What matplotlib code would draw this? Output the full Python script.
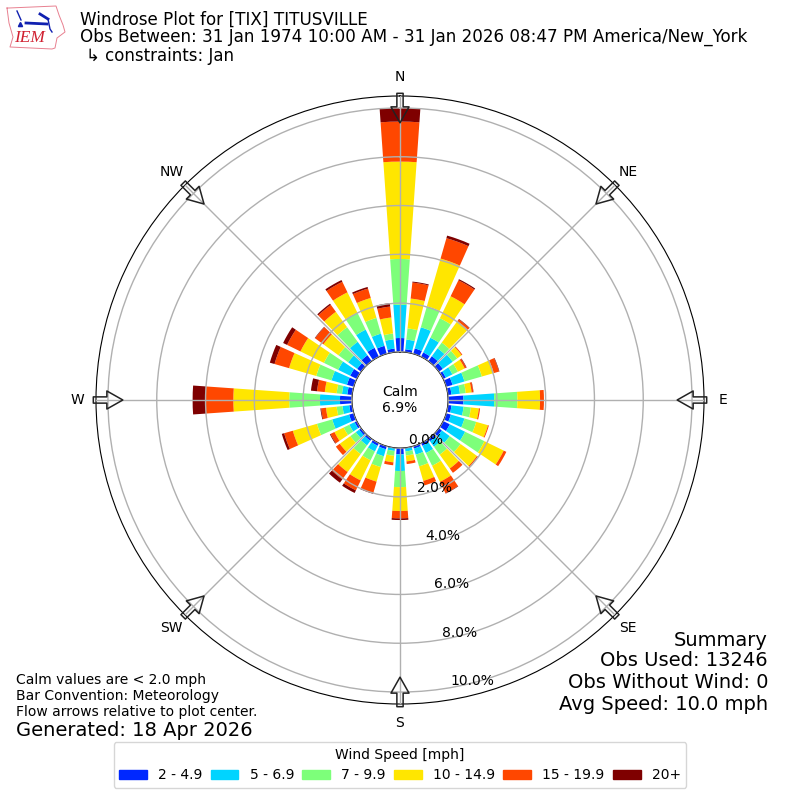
import numpy as np
import matplotlib
matplotlib.use("Agg")
import matplotlib.pyplot as plt
from matplotlib.patches import Patch

# wind direction bins, every 10 degrees
directions = list(range(0, 360, 10))

# top of each speed band on the stacked bar, percent of obs
top_2_5 = [.57,.12,.23,.20,.25,.20,.12,.27,.15,.63,.15,.20,.30,.15,.12,.12,.10,.03,
           .26,.03,.13,.12,.10,.10,.10,.20,.12,.49,.20,.29,.30,.20,.30,.41,.34,.15]
top_5_7 = [1.93,.52,1.13,.87,.65,.70,.42,.78,.50,1.89,.65,.78,1.00,.55,.40,.45,.36,.15,
           .94,.13,.43,.38,.33,.27,.34,.92,.40,1.31,.42,.95,.85,.66,.98,1.24,.86,.53]
top_7_10 = [3.81,.98,2.03,1.76,.94,.93,.67,1.52,.74,2.84,.95,1.28,1.88,1.10,.80,1.03,.86,.32,
            1.60,.33,.89,.78,.77,.55,.60,1.57,.64,2.57,.64,1.60,1.50,1.15,1.72,2.02,1.53,.77]
top_10_15 = [7.80,2.21,4.06,2.76,2.03,1.15,.98,2.03,.98,3.77,1.28,1.78,2.76,1.93,1.50,1.76,1.48,.56,
             2.58,.60,1.51,1.70,1.68,1.08,1.02,2.60,1.08,4.86,1.13,2.76,2.57,1.91,2.50,2.94,2.38,1.43]
top_15_20 = [9.44,2.87,4.93,3.49,2.12,1.19,1.05,2.25,1.05,3.93,1.33,1.82,2.88,1.98,1.72,2.28,1.67,.67,
             2.88,.72,2.00,2.15,2.05,1.28,1.20,2.97,1.28,6.00,1.45,3.38,3.18,2.33,2.85,3.42,2.78,1.88]
top_20_up = [10.0,2.91,5.04,3.54,2.14,1.19,1.07,2.27,1.06,3.93,1.33,1.82,2.88,1.98,1.72,2.30,1.67,.67,
             2.95,.72,2.03,2.27,2.22,1.28,1.23,3.07,1.31,6.53,1.70,3.58,3.36,2.35,2.91,3.50,2.85,2.02]

speed_labels = ["2 - 4.9", "5 - 6.9", "7 - 9.9", "10 - 14.9", "15 - 19.9", "20+"]
speed_colors = ["#0028ff", "#00d4ff", "#7dff7a", "#ffe600", "#ff4700", "#7f0000"]

r_ticks = [0, 2, 4, 6, 8, 10]
compass_deg = [0, 45, 90, 135, 180, 225, 270, 315]
compass_names = ["N", "NE", "E", "SE", "S", "SW", "W", "NW"]

fig = plt.figure(figsize=(8, 8), dpi=100)
ax = fig.add_axes([0.12, 0.12, 0.76, 0.76], projection="polar")
ax.set_theta_zero_location("N")
ax.set_theta_direction(-1)

theta = np.radians(directions)
bands = [top_2_5, top_5_7, top_7_10, top_10_15, top_15_20, top_20_up]
bottom = np.zeros(len(directions))
for vals, col in zip(bands, speed_colors):
    vals = np.array(vals)
    ax.bar(theta, vals - bottom, width=np.radians(8), bottom=bottom, color=col,
           linewidth=0, zorder=1)
    bottom = vals

ax.set_rorigin(-1.97)
ax.set_ylim(0, 10.49)
ax.set_axisbelow(False)
ax.set_thetagrids(compass_deg, compass_names)
ax.tick_params(axis="x", pad=3, labelsize=10)
ax.set_yticks(r_ticks)
ax.set_yticklabels(["%.1f%%" % r for r in r_ticks], fontsize=10, ha="left", va="bottom")
ax.set_rlabel_position(170)
ax.grid(True, color="#b0b0b0", linewidth=1)

# flow arrows
for d in compass_deg:
    a = np.radians(d)
    ax.annotate("", xy=(a, 9.39), xytext=(a, 10.6), annotation_clip=False, zorder=5,
                arrowprops=dict(facecolor="none", edgecolor="#222222", width=4.5,
                                headwidth=13, headlength=11.5, linewidth=1.1, shrink=0))

ax.text(0.5, 0.5, "Calm\n6.9%", transform=ax.transAxes, ha="center", va="center",
        fontsize=10)

# header
fig.text(80 / 800, 1 - 20 / 800, "Windrose Plot for [TIX] TITUSVILLE", fontsize=12.03, va="center")
fig.text(80 / 800, 1 - 37 / 800,
         "Obs Between: 31 Jan 1974 10:00 AM - 31 Jan 2026 08:47 PM America/New_York",
         fontsize=12.03, va="center")
fig.text(86 / 800, 1 - 56 / 800, "\u21b3 constraints: Jan", fontsize=12, va="center")

# logo
logo = fig.add_axes([0, 1 - 55 / 800, 70 / 800, 55 / 800])
logo.set_xlim(0, 70)
logo.set_ylim(55, 0)
logo.axis("off")
outline_x = [7, 9, 56, 59, 63, 65, 57, 55, 52, 10, 13, 9, 7]
outline_y = [8, 8, 6, 15, 25, 32, 38, 48, 49, 47, 37, 23, 8]
logo.plot(outline_x, outline_y, color="#e88090", linewidth=0.7)
logo.plot([26, 47], [23, 24], color="#1020b0", linewidth=2)
logo.plot([17, 21], [11, 20], color="#1020b0", linewidth=1)
logo.plot([40, 48], [14, 19], color="#1020b0", linewidth=2)
logo.plot([48, 50, 52], [19, 29, 32], color="#1020b0", linewidth=1)
logo.plot([20], [24], marker="^", color="#1020b0", markersize=3)
logo.text(30, 38, "IEM", color="#d02030", fontsize=12.5, style="italic", family="Liberation Serif",
          ha="center", va="center")

# bottom left notes
fig.text(16 / 800, 1 - 680 / 800, "Calm values are < 2.0 mph", fontsize=10, va="center")
fig.text(16 / 800, 1 - 696 / 800, "Bar Convention: Meteorology", fontsize=10, va="center")
fig.text(16 / 800, 1 - 712 / 800, "Flow arrows relative to plot center.", fontsize=10, va="center")
fig.text(16 / 800, 1 - 730 / 800, "Generated: 18 Apr 2026", fontsize=14, va="center")

# summary
summary = ["Summary", "Obs Used: 13246", "Obs Without Wind: 0", "Avg Speed: 10.0 mph"]
for y, s in zip([640, 661, 682, 705], summary):
    fig.text(768 / 800, 1 - y / 800, s, fontsize=14, ha="right", va="center")

handles = [Patch(color=c, label=l) for c, l in zip(speed_colors, speed_labels)]
fig.legend(handles=handles, title="Wind Speed [mph]", ncol=6, fontsize=10, title_fontsize=10,
           columnspacing=0.6, loc="center", bbox_to_anchor=(0.5, 1 - 765 / 800))

fig.savefig("out.png", dpi=100)
